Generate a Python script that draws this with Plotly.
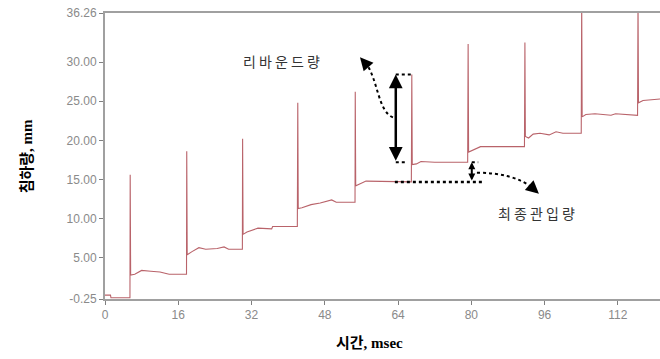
import plotly.graph_objects as go

# ---- data ----
time_ms = [0.0, 1.2, 1.3, 5.40,
           5.45, 5.50, 5.60, 6.5, 8.0, 10.0, 12.0, 14.0, 17.8,
           17.85, 17.95, 19.0, 20.5, 22.0, 24.5, 26.0, 27.0, 30.0,
           30.05, 30.15, 31.0, 33.4, 36.4, 36.6, 42.0,
           42.1, 42.2, 43.0, 45.0, 47.0, 49.5, 50.5, 54.6,
           54.65, 54.75, 55.5, 57.0, 66.9,
           67.0, 67.1, 68.0, 69.0, 72.0, 79.2,
           79.3, 79.4, 80.5, 82.0, 91.6,
           91.7, 91.8, 92.5, 93.5, 95.0, 97.0, 98.5, 100.0, 104.0,
           104.1, 104.2, 105.0, 107.0, 110.5, 111.5, 116.3,
           116.4, 116.5, 117.5, 121.5]
settle_mm = [0.25, 0.25, -0.10, -0.10,
             -0.10, 15.6, 2.8, 2.9, 3.4, 3.3, 3.2, 2.9, 2.9,
             18.6, 5.4, 5.8, 6.3, 6.1, 6.2, 6.4, 6.1, 6.1,
             20.2, 8.0, 8.3, 8.8, 8.7, 9.0, 9.0,
             24.8, 11.3, 11.4, 11.8, 12.0, 12.4, 12.1, 12.1,
             26.2, 14.2, 14.4, 14.8, 14.7,
             28.4, 16.9, 17.0, 17.3, 17.2, 17.2,
             32.3, 18.5, 18.8, 19.2, 19.2,
             32.5, 20.5, 20.3, 20.8, 20.9, 20.7, 21.1, 20.9, 20.9,
             38.0, 23.0, 23.3, 23.4, 23.2, 23.4, 23.2,
             38.0, 24.8, 25.1, 25.3]

y_tick_vals = [-0.25, 5.0, 10.0, 15.0, 20.0, 25.0, 30.0, 36.26]
y_tick_text = ["-0.25", "5.00", "10.00", "15.00", "20.00", "25.00", "30.00", "36.26"]
x_tick_vals = [0, 16, 32, 48, 64, 80, 96, 112]

fig = go.Figure()
fig.add_trace(go.Scatter(x=time_ms, y=settle_mm, mode="lines",
                         line=dict(color="#b9636a", width=1.1),
                         hoverinfo="skip", showlegend=False))

blk = "black"
shapes = [
    # rebound helper dotted ticks
    dict(type="line", xref="x", yref="y", x0=63.5, x1=66.9, y0=28.4, y1=28.4,
         line=dict(color=blk, width=2, dash="dot")),
    dict(type="line", xref="x", yref="y", x0=63.5, x1=66.0, y0=17.2, y1=17.2,
         line=dict(color=blk, width=2, dash="dot")),
    # final penetration dotted base line
    dict(type="line", xref="x", yref="y", x0=63.3, x1=82.3, y0=14.7, y1=14.7,
         line=dict(color=blk, width=2.5, dash="dot")),
    dict(type="line", xref="x", yref="y", x0=80.1, x1=81.5, y0=17.2, y1=17.2,
         line=dict(color=blk, width=2, dash="dot")),
    # curved dotted arrows
    dict(type="path", xref="x", yref="y",
         path="M 62.88,22.93 C 59.6,23.69 59.6,27.79 56.99,29.84",
         line=dict(color=blk, width=2, dash="dot")),
    dict(type="path", xref="x", yref="y",
         path="M 81.22,15.88 C 86.24,15.88 90.61,15.24 93.23,13.96",
         line=dict(color=blk, width=2, dash="dot")),
]

annotations = [
    dict(x=38.6, y=30.1, xref="x", yref="y", text="리 바 운 드 량", showarrow=False,
         font=dict(family="Noto Sans CJK KR", size=14, color="#333333")),
    dict(x=94.3, y=10.76, xref="x", yref="y", text="최 종 관 입 량", showarrow=False,
         font=dict(family="Noto Sans CJK KR", size=14, color="#333333")),
    # rebound double arrow
    dict(x=63.5, y=28.4, ax=63.5, ay=17.2, xref="x", yref="y", axref="x", ayref="y",
         text="", showarrow=True, arrowhead=2, arrowside="end+start",
         arrowwidth=2.5, arrowsize=1.1, arrowcolor=blk),
    # final penetration small double arrow
    dict(x=80.1, y=17.2, ax=80.1, ay=14.7, xref="x", yref="y", axref="x", ayref="y",
         text="", showarrow=True, arrowhead=2, arrowside="end+start",
         arrowwidth=2, arrowsize=0.7, arrowcolor=blk),
    # curved arrow heads
    dict(x=55.68, y=30.61, ax=57.2, ay=29.6, xref="x", yref="y", axref="x", ayref="y",
         text="", showarrow=True, arrowhead=2, arrowwidth=2, arrowsize=1.3, arrowcolor=blk),
    dict(x=94.76, y=13.19, ax=93.0, ay=14.1, xref="x", yref="y", axref="x", ayref="y",
         text="", showarrow=True, arrowhead=2, arrowwidth=2, arrowsize=1.3, arrowcolor=blk),
    # axis titles
    dict(x=0.476, y=-0.154, xref="paper", yref="paper", yanchor="middle",
         text="<b>시간, msec</b>", showarrow=False,
         font=dict(family="Liberation Serif, Noto Sans CJK KR", size=15, color="black")),
    dict(x=-0.158, y=0.5, xref="paper", yref="paper", textangle=-90,
         text="<b>침하량, mm</b>", showarrow=False,
         font=dict(family="Liberation Serif, Noto Sans CJK KR", size=15, color="black")),
]

fig.update_layout(
    width=660, height=359,
    margin=dict(l=105, r=0, t=13, b=60),
    paper_bgcolor="white", plot_bgcolor="white",
    shapes=shapes, annotations=annotations,
    showlegend=False,
    xaxis=dict(range=[0, 121.2], tickvals=x_tick_vals, showgrid=False, zeroline=False,
               showline=True, linecolor="#a0a0a0", linewidth=2, mirror=True,
               ticks="outside", ticklen=4, tickcolor="#808080",
               tickfont=dict(family="Liberation Sans", size=12, color="#8a8a8a")),
    yaxis=dict(range=[-0.25, 36.26], tickvals=y_tick_vals, ticktext=y_tick_text,
               showgrid=False, zeroline=False,
               showline=True, linecolor="#a0a0a0", linewidth=2,
               ticks="outside", ticklen=4, tickcolor="#808080",
               tickfont=dict(family="Liberation Sans", size=12, color="#8a8a8a")),
)

fig.write_html("out.html", config={"displayModeBar": False},
               post_script="document.body.style.margin='0px';document.body.style.overflow='hidden';")
